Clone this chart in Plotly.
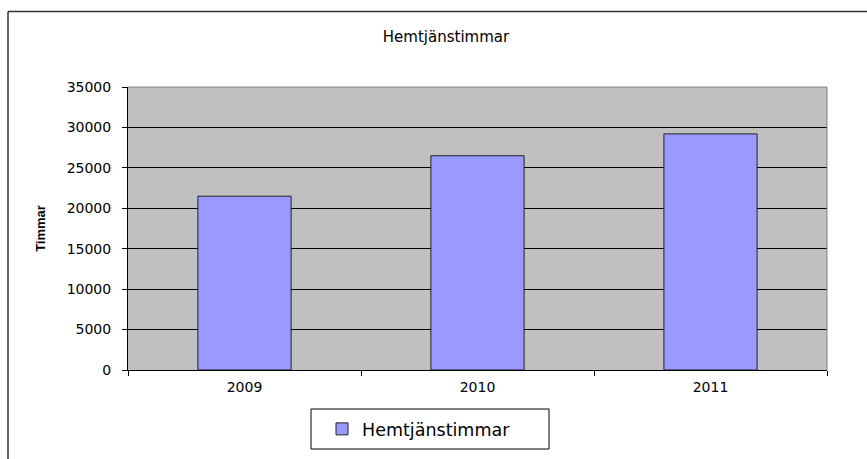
import plotly.graph_objects as go

years = ["2009", "2010", "2011"]
hours = [21500, 26500, 29200]
series_name = "Hemtjänstimmar"
chart_title = "Hemtjänstimmar"
y_title = "Timmar"

W, H = 867, 459
L, R, T, B = 128, 40, 87, 89
pw, ph = W - L - R, H - T - B

def px_x(px):
    return (px - L) / pw

def px_y(py):
    return (H - B - py) / ph

font = "DejaVu Sans, Liberation Sans, Arial, sans-serif"
bold_font = "Liberation Sans, Arial, sans-serif"

fig = go.Figure()
fig.add_trace(go.Bar(
    x=years, y=hours, name=series_name, width=0.4,
    marker=dict(color="#9999FF", line=dict(color="#222222", width=1)),
    showlegend=True,
))

fig.update_layout(
    width=W, height=H,
    margin=dict(l=L, r=R, t=T, b=B),
    paper_bgcolor="white",
    plot_bgcolor="#C0C0C0",
    font=dict(family=font, size=14, color="black"),
    title=dict(text=chart_title, x=px_x(446), xref="paper", xanchor="center",
               y=1 - 37 / H, yref="container", yanchor="middle",
               font=dict(size=15, family=font, color="black")),
    showlegend=True,
    legend=dict(orientation="h", x=px_x(322), y=px_y(429), xanchor="left", yanchor="middle",
                bgcolor="rgba(0,0,0,0)", borderwidth=0,
                font=dict(size=17.5, family=font), itemwidth=30),
    bargap=0.6,
)

fig.update_xaxes(type="category", tickson="boundaries", ticks="outside", ticklen=5,
                 tickcolor="black", showline=True, linecolor="black", linewidth=1,
                 showgrid=False, tickfont=dict(size=14, family=font),
                 ticklabelstandoff=4)
fig.update_yaxes(range=[0, 35000], dtick=5000, tickformat="d", ticks="outside", ticklen=5,
                 tickcolor="black", showline=True, linecolor="black", linewidth=1,
                 showgrid=True, gridcolor="black", gridwidth=1, zeroline=False,
                 tickfont=dict(size=14, family=font), ticklabelstandoff=8,
                 title=dict(text="<b>" + y_title + "</b>", standoff=18,
                            font=dict(size=13, family=bold_font)))

# plot area top/right gray border
fig.add_shape(type="line", xref="paper", yref="paper", x0=0, x1=1, y0=1, y1=1,
              line=dict(color="#808080", width=1))
fig.add_shape(type="line", xref="paper", yref="paper", x0=1, x1=1, y0=0, y1=1,
              line=dict(color="#808080", width=1))
# outer chart frame
fig.add_shape(type="line", xref="paper", yref="paper", x0=px_x(8), x1=px_x(870),
              y0=px_y(11.5), y1=px_y(11.5), line=dict(color="#333333", width=1.5))
fig.add_shape(type="line", xref="paper", yref="paper", x0=px_x(8), x1=px_x(8),
              y0=px_y(11.5), y1=px_y(470), line=dict(color="#333333", width=1.5))
# legend box
fig.add_shape(type="rect", xref="paper", yref="paper", x0=px_x(311), x1=px_x(549),
              y0=px_y(449), y1=px_y(409), line=dict(color="black", width=1),
              fillcolor="white", layer="below")

fig.write_html("out.html", config={"displayModeBar": False},
               post_script="document.body.style.margin='0';document.body.style.overflow='hidden';")
